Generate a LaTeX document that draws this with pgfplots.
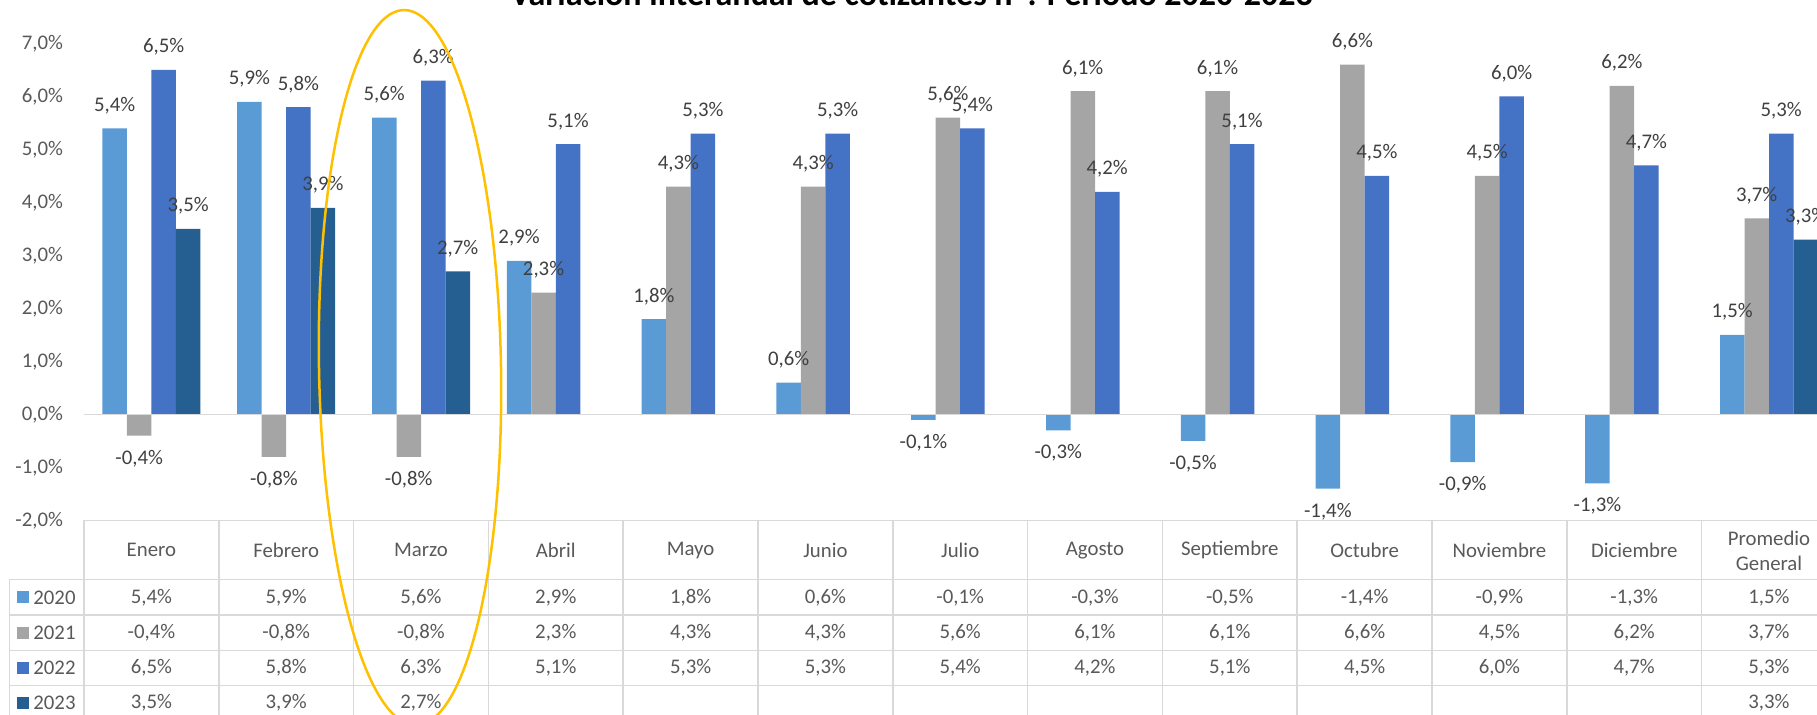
\documentclass[border=0pt]{standalone}
\usepackage{fontspec}
\setmainfont{Carlito}
\usepackage{pgfplots}
\pgfplotsset{compat=1.18}
\usepackage{pgfplotstable}

\definecolor{c20}{HTML}{5B9BD5}
\definecolor{c21}{HTML}{A5A5A5}
\definecolor{c22}{HTML}{4472C4}
\definecolor{c23}{HTML}{255E91}
\definecolor{lbl}{HTML}{404040}
\definecolor{tickc}{HTML}{595959}
\definecolor{gridc}{HTML}{D9D9D9}
\definecolor{ovalc}{HTML}{FFC000}

\pgfplotstableread{
x y
0 5.4
1 5.9
2 5.6
3 2.9
4 1.8
5 0.6
6 -0.1
7 -0.3
8 -0.5
9 -1.4
10 -0.9
11 -1.3
12 1.5
}\dataA
\pgfplotstableread{
x y
0 -0.4
1 -0.8
2 -0.8
3 2.3
4 4.3
5 4.3
6 5.6
7 6.1
8 6.1
9 6.6
10 4.5
11 6.2
12 3.7
}\dataB
\pgfplotstableread{
x y
0 6.5
1 5.8
2 6.3
3 5.1
4 5.3
5 5.3
6 5.4
7 4.2
8 5.1
9 4.5
10 6.0
11 4.7
12 5.3
}\dataC
\pgfplotstableread{
x y
0 3.5
1 3.9
2 2.7
12 3.3
}\dataD

\newcommand\fs{\fontsize{10.4}{12.5}\selectfont}
\newcommand\pct[1]{\pgfmathprintnumber[fixed,fixed zerofill,precision=1,use comma,assume math mode=true]{#1}\%}
\newcommand\tablerow[2]{%
  \pgfplotstablegetrowsof{#1}%
  \pgfmathtruncatemacro\nrows{\pgfplotsretval-1}%
  \foreach \r in {0,...,\nrows}{%
    \pgfplotstablegetelem{\r}{x}\of{#1}\let\xx\pgfplotsretval
    \pgfplotstablegetelem{\r}{y}\of{#1}\let\yy\pgfplotsretval
    \node[font=\fs,text=tickc,inner sep=0pt] at ({42pt+67.4pt*(\xx+0.5)},#2pt) {\pct{\yy}};
  }%
}

\begin{document}
\begin{tikzpicture}
\useasboundingbox (0,0) rectangle (908.5pt,357.5pt);
\clip (0,0) rectangle (908.5pt,357.5pt);

\node[anchor=base,font=\bfseries\fontsize{17}{20}\selectfont] at (455.75pt,354.75pt)
  {Variación interanual de cotizantes nº. Período 2020-2023};

\begin{axis}[
  at={(42pt,97.25pt)}, anchor=south west,
  scale only axis, x=67.4pt, y=26.5pt,
  xmin=-0.5, xmax=12.5, ymin=-2, ymax=7.8,
  clip=false,
  axis line style={draw=none},
  tick style={draw=none},
  xtick=\empty,
  ytick={-2,-1,0,1,2,3,4,5,6,7},
  yticklabels={{-2,0\%},{-1,0\%},{0,0\%},{1,0\%},{2,0\%},{3,0\%},{4,0\%},{5,0\%},{6,0\%},{7,0\%}},
  yticklabel style={font=\fs,text=tickc,xshift=-7pt},
  ybar=0pt, bar width=12.25pt,
  nodes near coords={\pct{\pgfplotspointmeta}},
  every node near coord/.append style={font=\fs,text=lbl,inner sep=7pt},
]
\addplot[fill=c20,draw=none] table[x=x,y=y] {\dataA};
\addplot[fill=c21,draw=none] table[x=x,y=y] {\dataB};
\addplot[fill=c22,draw=none] table[x=x,y=y] {\dataC};
\addplot[fill=c23,draw=none] table[x=x,y=y] {\dataD};
\draw[gridc,line width=0.75pt] (axis cs:-0.5,0) -- (axis cs:12.5,0);
\end{axis}

% data table grid
\begin{scope}[gridc,line width=0.75pt]
\draw (42pt,97.25pt) -- (920pt,97.25pt);
\foreach \yy in {67.65,50,32.35,14.85} \draw (4.65pt,\yy pt) -- (920pt,\yy pt);
\draw (4.65pt,67.65pt) -- (4.65pt,-5pt);
\foreach \k in {0,...,13} \draw ({42pt+67.4pt*\k},97.25pt) -- ({42pt+67.4pt*\k},-5pt);
\end{scope}

% header
\foreach \m [count=\i from 0] in {Enero,Febrero,Marzo,Abril,Mayo,Junio,Julio,Agosto,Septiembre,Octubre,Noviembre,Diciembre,{Promedio\\General}}
  \node[align=center,font=\fs,text=tickc,inner sep=0pt] at ({42pt+67.4pt*(\i+0.5)},82.3pt) {\m};

% legend keys
\foreach \c/\yr/\yy in {c20/2020/58.8,c21/2021/41.2,c22/2022/23.6,c23/2023/6.05}{
  \fill[\c] (8.65pt,\yy pt-3pt) rectangle ++(6pt,6pt);
  \node[anchor=west,inner sep=0pt,font=\fs,text=tickc] at (16.5pt,\yy pt) {\yr};
}

% values
\tablerow{\dataA}{58.8}
\tablerow{\dataB}{41.2}
\tablerow{\dataC}{23.6}
\tablerow{\dataD}{6.05}

% highlight
\draw[ovalc,line width=1.25pt,rotate around={1:(205pt,173.7pt)}] (205pt,173.7pt) ellipse [x radius=45.5pt, y radius=178.8pt];
\end{tikzpicture}
\end{document}
